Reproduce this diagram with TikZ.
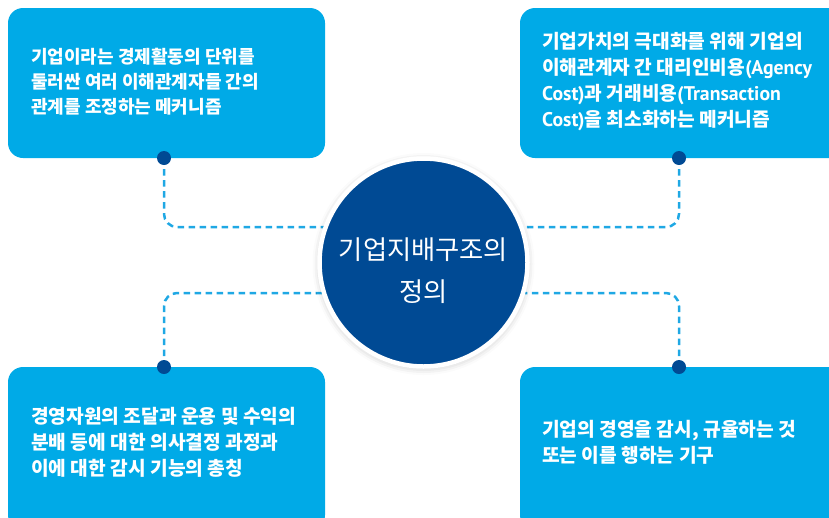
\documentclass[tikz,border=0pt]{standalone}
\usepackage{fontspec}
\newfontfamily\kr{Noto Sans CJK KR}
\newfontfamily\lat[Scale=1.03]{PT Sans}
\usetikzlibrary{shadows.blur}
\definecolor{boxblue}{HTML}{00AAE7}
\definecolor{navy}{HTML}{004A94}
\definecolor{dashblue}{HTML}{1FA8E4}
\newcommand{\lt}[1]{{\lat\bfseries #1}}
\tikzset{
  infobox/.style={fill=boxblue, rounded corners=15pt},
  infotext/.style={anchor=west, align=left, text=white, inner sep=0pt,
    font=\kr\bfseries\fontsize{19.2}{26}\selectfont},
  dot/.style={circle, fill=navy, minimum size=14pt, inner sep=0pt},
  link/.style={dashblue, line width=2.5pt, dash pattern=on 6.5pt off 4.5pt, rounded corners=13pt},
}
\begin{document}
\begin{tikzpicture}[x=1pt,y=-1pt]
\useasboundingbox (0,0) rectangle (829,517);
\clip (0,0) rectangle (829,517);
% boxes
\fill[infobox] (8,8) rectangle (325,158);
\fill[infobox] (520,8) rectangle (845,158);
\fill[infobox] (8,367) rectangle (325,530);
\fill[infobox] (520,367) rectangle (845,530);
\node[infotext, font=\kr\bfseries\fontsize{18}{25}\selectfont] (t1) at (31,82) {기업이라는 경제활동의 단위를\\둘러싼 여러 이해관계자들 간의\\관계를 조정하는 메커니즘};
\node[infotext] (t2) at (542,82) {기업가치의 극대화를 위해 기업의\\이해관계자 간 대리인비용\lt{(Agency}\\\lt{Cost)}과 거래비용\lt{(Transaction}\\\lt{Cost)}을 최소화하는 메커니즘};
\node[infotext] (t3) at (31,442) {경영자원의 조달과 운용 및 수익의\\분배 등에 대한 의사결정 과정과\\이에 대한 감시 기능의 총칭};
\node[infotext] (t4) at (542,442) {기업의 경영을 감시, 규율하는 것\\또는 이를 행하는 기구};
% connector corners
\coordinate (d1) at (164,158);
\coordinate (d2) at (679,158);
\coordinate (d3) at (164,367);
\coordinate (d4) at (679,367);
\coordinate (c1) at (164,227);
\coordinate (c2) at (679,227);
\coordinate (c3) at (164,293);
\coordinate (c4) at (679,293);
\coordinate (e1) at (330,227);
\coordinate (e2) at (520,227);
\coordinate (e3) at (330,293);
\coordinate (e4) at (520,293);
\draw[link] (d1) -- (c1) -- (e1);
\draw[link] (d2) -- (c2) -- (e2);
\draw[link] (d3) -- (c3) -- (e3);
\draw[link] (d4) -- (c4) -- (e4);
% dots
\node[dot] (n1) at (d1) {};
\node[dot] (n2) at (d2) {};
\node[dot] (n3) at (d3) {};
\node[dot] (n4) at (d4) {};
% center circle
\node[circle, fill=navy, draw=white, line width=4.5pt, minimum size=208pt, inner sep=0pt,
  blur shadow={shadow xshift=0pt, shadow yshift=-1.5pt, shadow blur radius=7pt, shadow opacity=25}] (c) at (423.5,262.5) {};
\node[text=white, align=center, inner sep=0pt, font=\kr\fontsize{26.3}{42}\selectfont] (ct) at (423.5,271)
  {기업지배구조의\\정의};
\end{tikzpicture}
\end{document}
